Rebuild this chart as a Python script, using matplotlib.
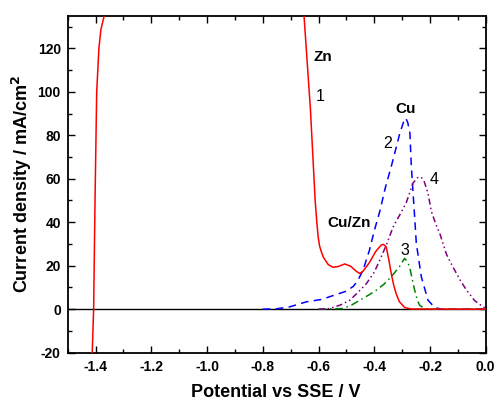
import numpy as np
import matplotlib.pyplot as plt
from matplotlib.ticker import MultipleLocator

plt.rcParams['font.family'] = ['Liberation Sans', 'DejaVu Sans']
plt.rcParams['font.weight'] = 'bold'
plt.rcParams['axes.unicode_minus'] = False

# curve 1 - red, Zn dissolution + Cu/Zn humps
e1 = [-1.416, -1.412, -1.407, -1.405, -1.403, -1.402, -1.396, -1.388, -1.381, -1.369, -1.36,
      np.nan,
      -0.66, -0.652, -0.629, -0.612, -0.606, -0.601, -0.596, -0.59, -0.583, -0.565, -0.548,
      -0.53, -0.506, -0.485, -0.465, -0.452, -0.44, -0.417, -0.395, -0.375, -0.367, -0.357,
      -0.348, -0.339, -0.33, -0.321, -0.31, -0.291, -0.27, 0.0]
i1 = [-30, -20, 0, 20, 40, 50, 100, 120, 128.6, 135, 150,
      np.nan,
      150, 135, 92, 50, 40, 33, 29, 26.5, 24, 20.5, 19.3,
      19.6, 20.8, 19.8, 17.5, 16.4, 17.5, 21.5, 26.5, 29.5, 29.8, 28.7,
      23, 16.4, 11, 7.0, 3.5, 0.8, 0.1, 0.0]

# curve 2 - blue, Cu
e2 = [-0.80, -0.75, -0.703, -0.643, -0.589, -0.535, -0.50, -0.475, -0.458, -0.44, -0.417,
      -0.40, -0.38, -0.36, -0.339, -0.32, -0.308, -0.295, -0.287, -0.28, -0.272, -0.267,
      -0.255, -0.249, -0.231, -0.207, -0.183, -0.16, 0.0]
i2 = [0, 0.2, 1.1, 3.4, 4.5, 6.8, 8.3, 10.5, 13.4, 18, 27.2,
      36, 45, 56, 65.6, 75, 81, 86, 87.9, 86, 81, 66,
      42.5, 30.3, 14.9, 4.1, 0.8, 0, 0]

# curve 3 - green
e3 = [-0.60, -0.512, -0.48, -0.452, -0.42, -0.392, -0.365, -0.339, -0.31, -0.291, -0.282,
      -0.273, -0.264, -0.255, -0.245, -0.237, -0.219, -0.2, 0.0]
i3 = [0, 0.3, 2, 4.1, 6.5, 8.8, 11.5, 14.9, 19.5, 23.4, 22,
      19.5, 14, 8.8, 4, 1.8, 0.3, 0, 0]

# curve 4 - purple
e4 = [-0.60, -0.56, -0.52, -0.488, -0.46, -0.428, -0.40, -0.38, -0.355, -0.332, -0.31,
      -0.285, -0.261, -0.245, -0.231, -0.22, -0.207, -0.195, -0.18, -0.165, -0.14, -0.118,
      -0.09, -0.069, -0.04, -0.01, 0.0]
i4 = [0, 0.3, 2, 4.1, 7.5, 11.8, 17, 22.6, 30, 37.9, 43,
      49, 58, 60.5, 60.7, 58.5, 53.3, 45, 39.5, 34.9, 25, 19.5,
      13, 8.8, 4, 1.1, 0.5]

fig = plt.figure(figsize=(4.95, 4.0), dpi=100)
ax = fig.add_axes([0.1368, 0.1183, 0.8444, 0.8425])

ax.axhline(0, color='black', lw=1.0, zorder=1)
ax.plot(e1, i1, color='red', lw=1.1, zorder=3)
ax.plot(e2, i2, color='blue', lw=1.1, dashes=(5, 3.5), zorder=2)
ax.plot(e3, i3, color='green', lw=1.1, dashes=(5, 2.5, 1, 2.5), zorder=2)
ax.plot(e4, i4, color='purple', lw=1.1, dashes=(4, 2, 1, 2, 1, 2), zorder=2)

# curve labels
ax.text(-0.617, 115.8, 'Zn', fontsize=11, fontweight='bold', va='center', ha='left')
ax.text(-0.595, 97.6, '1', fontsize=11.5, fontweight='normal', va='center', ha='center')
ax.text(-0.286, 92, 'Cu', fontsize=11, fontweight='bold', va='center', ha='center')
ax.text(-0.352, 76.4, '2', fontsize=11.5, fontweight='normal', va='center', ha='center')
ax.text(-0.491, 39.8, 'Cu/Zn', fontsize=11, fontweight='bold', va='center', ha='center')
ax.text(-0.291, 26.9, '3', fontsize=11.5, fontweight='normal', va='center', ha='center')
ax.text(-0.186, 59.8, '4', fontsize=11.5, fontweight='normal', va='center', ha='center')

ax.set_xlim(-1.5, 0.0)
ax.set_ylim(-20, 135)
ax.xaxis.set_minor_locator(MultipleLocator(0.1))
ax.yaxis.set_major_locator(MultipleLocator(20))
ax.yaxis.set_minor_locator(MultipleLocator(10))
ax.set_xticks(np.arange(-1.4, 0.01, 0.2))
ax.set_xticklabels(['-1.4', '-1.2', '-1.0', '-0.8', '-0.6', '-0.4', '-0.2', '0.0'])
ax.tick_params(which='both', direction='in', top=True, right=True, labelsize=10, width=1.0)
ax.tick_params(which='major', length=5, pad=5)
ax.tick_params(which='minor', length=3)
for lab in ax.get_xticklabels() + ax.get_yticklabels():
    lab.set_fontweight('bold')
for sp in ax.spines.values():
    sp.set_linewidth(1.3)

ax.set_xlabel('Potential vs SSE / V', fontsize=13, fontweight='bold')
ax.set_ylabel('Current density / mA/cm$^\\mathbf{2}$', fontsize=13, fontweight='bold')
ax.xaxis.set_label_coords(0.497, -0.119)
ax.xaxis.label.set_va('center')
ax.yaxis.set_label_coords(-0.1105, 0.5)
ax.yaxis.label.set_va('center')

fig.savefig('out.png', dpi=100)
